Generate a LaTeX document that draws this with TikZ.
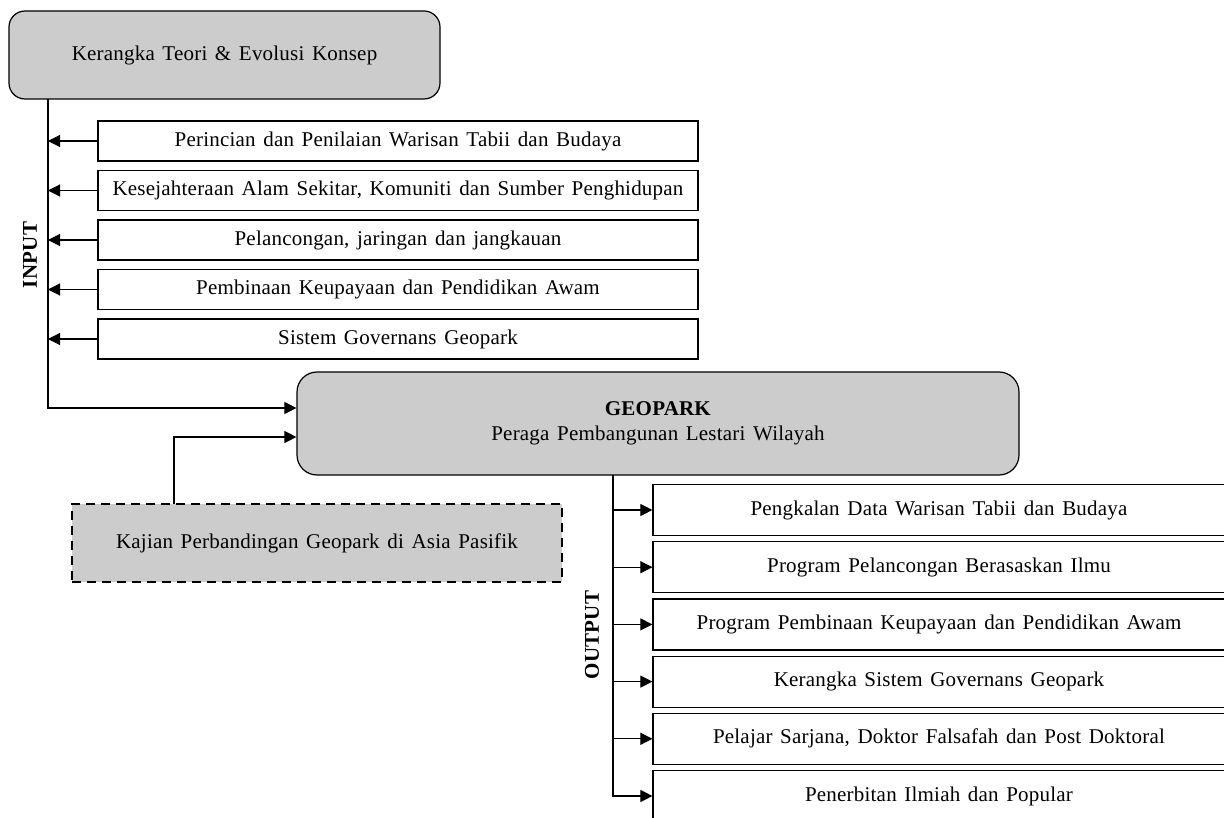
\documentclass[tikz,border=0pt]{standalone}
\usepackage{fontspec}
\setmainfont{Liberation Serif}[LetterSpace = 1, WordSpace = 1.4]
\usetikzlibrary{arrows.meta, positioning}

\tikzset{
	txt/.style = {font = \fontsize{21}{24}\selectfont},
	mainbox/.style = {txt, draw, fill = gray!40, rounded corners = 16pt, line width = 1.2pt, align = center, inner sep = 0pt},
	inbox/.style = {txt, draw, fill = white, line width = 1.2pt, minimum width = 600pt, minimum height = 40pt, inner sep = 0pt},
	outbox/.style = {txt, draw, fill = white, line width = 1.2pt, minimum width = 572pt, minimum height = 51pt, inner sep = 0pt},
	arr/.style = {line width = 1.1pt, -{Triangle[length = 12pt, width = 12pt]}},
	side/.style = {font = \fontsize{21}{24}\selectfont\bfseries, rotate = 90}
}

\begin{document}
\begin{tikzpicture}[x = 1pt, y = -1pt]
		\useasboundingbox (0,0) rectangle (1224,818);
		
		\node [mainbox, minimum width = 431pt, minimum height = 88pt] (teori) at (224.5,55) {Kerangka Teori \& Evolusi Konsep};
		\node [mainbox, minimum width = 722pt, minimum height = 103pt, rounded corners = 20pt] (geo) at (658,423.5) {\textbf{GEOPARK}\\[1pt] Peraga Pembangunan Lestari Wilayah};
		\node [mainbox, rounded corners = 0pt, dashed, dash pattern = on 9pt off 6pt, minimum width = 490pt, minimum height = 78pt] (kajian) at (317,543) {Kajian Perbandingan Geopark di Asia Pasifik};
		
		\coordinate (intrunk) at (48,99);
		\coordinate (kajtop) at (174,504);
		\coordinate (outtrunk) at (613,475);
		
		% input
		\node [inbox] (in1) at (398,141) {Perincian dan Penilaian Warisan Tabii dan Budaya};
		\node [inbox] (in2) at (398,190.5) {Kesejahteraan Alam Sekitar, Komuniti dan Sumber Penghidupan};
		\node [inbox] (in3) at (398,240) {Pelancongan, jaringan dan jangkauan};
		\node [inbox] (in4) at (398,289.5) {Pembinaan Keupayaan dan Pendidikan Awam};
		\node [inbox] (in5) at (398,339) {Sistem Governans Geopark};
		\node [side] (input) at (30,255) {INPUT};
		
		% output
		\node [outbox] (out1) at (939,510) {Pengkalan Data Warisan Tabii dan Budaya};
		\node [outbox] (out2) at (939,567.2) {Program Pelancongan Berasaskan Ilmu};
		\node [outbox] (out3) at (939,624.4) {Program Pembinaan Keupayaan dan Pendidikan Awam};
		\node [outbox] (out4) at (939,681.6) {Kerangka Sistem Governans Geopark};
		\node [outbox] (out5) at (939,738.8) {Pelajar Sarjana, Doktor Falsafah dan Post Doktoral};
		\node [outbox] (out6) at (939,796) {Penerbitan Ilmiah dan Popular};
		\node [side] (output) at (592,635) {OUTPUT};
		
		\begin{scope}[arr]
			\draw (intrunk) |- ([yshift = 15.5pt]geo.west);
			\draw (kajtop) |- ([yshift = -13.5pt]geo.west);
			\draw (in1.west) -- (in1.west -| intrunk);
			\draw (in2.west) -- (in2.west -| intrunk);
			\draw (in3.west) -- (in3.west -| intrunk);
			\draw (in4.west) -- (in4.west -| intrunk);
			\draw (in5.west) -- (in5.west -| intrunk);
			\draw (outtrunk) |- (out1.west);
			\draw (outtrunk) |- (out2.west);
			\draw (outtrunk) |- (out3.west);
			\draw (outtrunk) |- (out4.west);
			\draw (outtrunk) |- (out5.west);
			\draw (outtrunk) |- (out6.west);
		\end{scope}
	\end{tikzpicture}
\end{document}
